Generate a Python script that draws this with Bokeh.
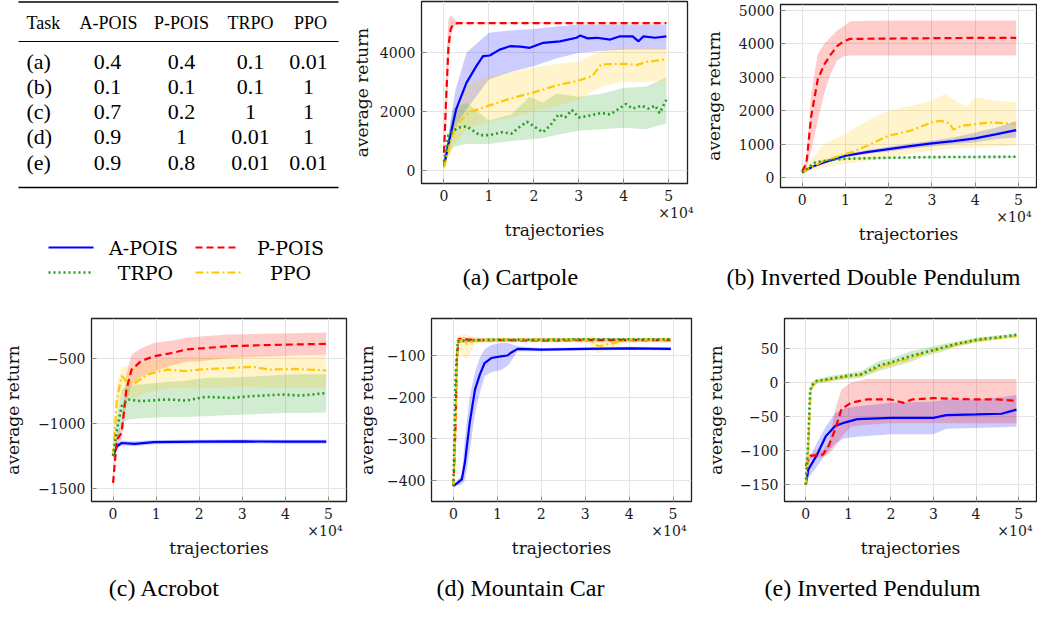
from bokeh.plotting import figure
from bokeh.layouts import row, column
from bokeh.models import Range1d, FixedTicker, Title, CustomJSTickFormatter
from bokeh.embed import file_html
from bokeh.resources import INLINE
from bokeh.core.properties import value

# ---------------- data ----------------
# table
table_cols = ["Task", "A-POIS", "P-POIS", "TRPO", "PPO"]
table_tasks = ["(a)", "(b)", "(c)", "(d)", "(e)"]
table_apois = ["0.4", "0.1", "0.7", "0.9", "0.9"]
table_ppois = ["0.4", "0.1", "0.2", "1", "0.8"]
table_trpo = ["0.1", "0.1", "1", "0.01", "0.01"]
table_ppo = ["0.01", "1", "1", "1", "0.01"]

methods = ["A-POIS", "P-POIS", "TRPO", "PPO"]
captions = ["(a) Cartpole", "(b) Inverted Double Pendulum", "(c) Acrobot",
            "(d) Mountain Car", "(e) Inverted Pendulum"]

# (a) Cartpole  (x in units of 1e4 trajectories)
a_ap_x = [0, 0.1, 0.27, 0.5, 0.72, 0.87, 1.02, 1.24, 1.47, 1.7, 1.91, 2.21, 2.58, 2.95, 3.03, 3.2, 3.4, 3.7, 3.92, 4.2, 4.33, 4.44, 4.7, 4.95]
a_ap_y = [150, 900, 2070, 2970, 3540, 3880, 3900, 4100, 4215, 4200, 4160, 4330, 4380, 4500, 4575, 4480, 4500, 4440, 4550, 4550, 4380, 4550, 4500, 4550]
a_ap_bx = [0, 0.25, 0.5, 1.0, 1.5, 2.0, 2.5, 3.0, 3.5, 4.0, 4.5, 4.95]
a_ap_lo = [100, 1500, 2070, 3085, 3350, 3540, 3800, 3990, 4050, 4100, 4100, 4100]
a_ap_hi = [200, 2700, 3990, 4670, 4750, 4800, 4880, 4950, 4950, 4950, 4950, 4950]
a_pp_x = [0, 0.05, 0.1, 0.15, 0.2, 0.3, 0.5, 1, 2, 3, 4, 4.95]
a_pp_y = [600, 2500, 4200, 4800, 4950, 5000, 5000, 5000, 5000, 5000, 5000, 5000]
a_pp_lo = [500, 1500, 3500, 4500, 4850, 4970, 4980, 4980, 4980, 4980, 4980, 4980]
a_pp_hi = [700, 3500, 5150, 5250, 5200, 5030, 5020, 5020, 5020, 5020, 5020, 5020]
a_tr_x = [0, 0.1, 0.3, 0.5, 0.7, 0.8, 1.0, 1.3, 1.5, 1.7, 1.85, 2.0, 2.2, 2.35, 2.55, 2.7, 2.85, 3.0, 3.2, 3.5, 3.7, 3.9, 4.05, 4.2, 4.4, 4.55, 4.7, 4.8, 4.95]
a_tr_y = [300, 1200, 1450, 1500, 1300, 1200, 1200, 1300, 1250, 1500, 1650, 1500, 1300, 1500, 1900, 1800, 2050, 1800, 1850, 1950, 1900, 2100, 2250, 2100, 2200, 2100, 2200, 1950, 2400]
a_tr_bx = [0, 0.2, 0.5, 1, 1.5, 1.9, 2.2, 2.5, 3, 3.5, 4, 4.5, 4.95]
a_tr_lo = [200, 800, 900, 900, 1000, 1050, 1100, 1200, 1350, 1400, 1450, 1400, 1600]
a_tr_hi = [400, 2100, 2300, 1700, 1900, 2500, 2300, 2600, 2500, 2600, 2800, 2850, 3150]
a_po_x = [0, 0.15, 0.3, 0.6, 1.0, 1.5, 2.0, 2.5, 3.0, 3.3, 3.5, 4.0, 4.3, 4.5, 4.95]
a_po_y = [100, 1000, 1600, 2000, 2200, 2450, 2650, 2880, 3050, 3200, 3600, 3620, 3580, 3680, 3770]
a_po_bx = [0, 0.25, 0.5, 1, 1.5, 2, 2.5, 3, 3.5, 4, 4.5, 4.95]
a_po_lo = [50, 900, 1400, 1650, 1800, 2000, 2200, 2400, 2850, 3000, 3000, 3050]
a_po_hi = [150, 2000, 2900, 3200, 3350, 3500, 3600, 3700, 4050, 4150, 4150, 4150]

# (b) Inverted Double Pendulum
b_ap_x = [0, 0.25, 0.5, 1, 1.5, 2, 2.5, 3, 3.5, 4, 4.5, 4.95]
b_ap_y = [150, 330, 450, 650, 760, 850, 940, 1020, 1090, 1170, 1300, 1420]
b_ap_lo = [130, 300, 410, 600, 700, 780, 860, 930, 1000, 1050, 1150, 1200]
b_ap_hi = [170, 360, 490, 700, 820, 920, 1020, 1110, 1200, 1350, 1500, 1700]
b_pp_x = [0, 0.1, 0.21, 0.36, 0.51, 0.66, 0.81, 0.96, 1.11, 2, 3, 4, 4.95]
b_pp_y = [180, 430, 1830, 2930, 3380, 3680, 3930, 4080, 4150, 4160, 4170, 4180, 4180]
b_pp_lo = [150, 300, 800, 1700, 2500, 3100, 3500, 3620, 3650, 3650, 3650, 3650, 3650]
b_pp_hi = [210, 600, 2500, 3700, 4000, 4200, 4400, 4530, 4680, 4700, 4700, 4700, 4700]
b_tr_x = [0, 0.3, 0.7, 1, 2, 3, 4, 4.95]
b_tr_y = [150, 450, 530, 560, 590, 610, 615, 620]
b_tr_lo = [140, 430, 510, 540, 570, 590, 595, 600]
b_tr_hi = [160, 470, 550, 580, 610, 630, 635, 640]
b_po_x = [0, 0.5, 1.0, 1.2, 1.5, 2, 2.5, 3, 3.2, 3.4, 3.5, 3.7, 4, 4.4, 4.95]
b_po_y = [150, 500, 700, 780, 950, 1250, 1400, 1650, 1700, 1630, 1430, 1550, 1600, 1650, 1600]
b_po_bx = [0, 0.5, 1, 1.5, 2, 2.5, 3, 3.3, 3.8, 4, 4.5, 4.95]
b_po_lo = [130, 300, 400, 500, 600, 700, 800, 850, 880, 900, 930, 950]
b_po_hi = [170, 1000, 1300, 1700, 2000, 2150, 2300, 2500, 2100, 2400, 2300, 2250]

# (c) Acrobot
c_ap_x = [0, 0.09, 0.2, 0.5, 0.95, 2, 3, 4, 4.95]
c_ap_y = [-1250, -1175, -1150, -1156, -1143, -1140, -1138, -1140, -1140]
c_ap_lo = [-1270, -1195, -1170, -1175, -1160, -1155, -1153, -1155, -1155]
c_ap_hi = [-1230, -1155, -1130, -1137, -1126, -1125, -1123, -1125, -1125]
c_pp_x = [0, 0.09, 0.2, 0.31, 0.43, 0.65, 0.95, 1.4, 1.7, 2.0, 2.7, 3.5, 4.2, 4.95]
c_pp_y = [-1456, -1123, -1070, -740, -585, -520, -482, -456, -430, -423, -405, -397, -392, -387]
c_pp_lo = [-1470, -1170, -1120, -850, -700, -640, -600, -550, -525, -520, -495, -485, -475, -470]
c_pp_hi = [-1440, -1080, -1000, -620, -470, -420, -380, -360, -340, -330, -315, -310, -305, -300]
c_tr_x = [0, 0.09, 0.2, 0.35, 0.65, 1.25, 1.7, 2.14, 2.74, 3.19, 3.93, 4.38, 4.95]
c_tr_y = [-1250, -1046, -867, -815, -828, -815, -823, -795, -803, -790, -777, -785, -765]
c_tr_lo = [-1270, -1150, -1000, -970, -960, -950, -950, -945, -935, -930, -920, -920, -915]
c_tr_hi = [-1230, -950, -740, -700, -700, -680, -670, -650, -645, -640, -625, -620, -620]
c_po_x = [0, 0.09, 0.2, 0.31, 0.5, 0.8, 1.25, 1.7, 2.0, 2.74, 3.26, 3.63, 4.23, 4.95]
c_po_y = [-1250, -815, -635, -675, -690, -623, -585, -597, -585, -572, -564, -585, -580, -592]
c_po_lo = [-1270, -950, -780, -800, -800, -760, -730, -730, -730, -720, -720, -725, -725, -730]
c_po_hi = [-1230, -700, -560, -560, -560, -520, -500, -490, -480, -475, -470, -470, -470, -470]

# (d) Mountain Car
d_ap_x = [0, 0.19, 0.26, 0.37, 0.49, 0.6, 0.71, 0.86, 1.08, 1.23, 1.3, 1.46, 2, 3, 4, 4.95]
d_ap_y = [-414, -398, -358, -262, -182, -146, -118, -106, -102, -100, -94, -84, -86, -84, -83, -84]
d_ap_lo = [-414, -410, -400, -330, -240, -190, -150, -140, -135, -125, -115, -90, -90, -88, -87, -88]
d_ap_hi = [-414, -385, -300, -200, -140, -105, -85, -75, -70, -70, -72, -78, -82, -80, -79, -80]
d_pp_x = [0, 0.05, 0.08, 0.12, 0.5, 1, 2, 3, 4, 4.95]
d_pp_y = [-414, -262, -100, -60, -63, -63, -64, -63, -63, -63]
d_pp_lo = [-414, -320, -150, -70, -68, -68, -68, -68, -68, -68]
d_pp_hi = [-414, -220, -70, -55, -58, -58, -58, -58, -58, -58]
d_tr_x = [0, 0.05, 0.1, 0.5, 1, 2, 3, 4, 4.95]
d_tr_y = [-414, -150, -65, -63, -62, -62, -61, -61, -61]
d_tr_lo = [-414, -170, -70, -66, -65, -65, -64, -64, -64]
d_tr_hi = [-414, -130, -60, -60, -59, -59, -58, -58, -58]
d_po_x = [0, 0.05, 0.1, 0.2, 0.3, 0.5, 1, 2, 3, 3.15, 3.3, 4, 4.95]
d_po_y = [-414, -250, -62, -65, -72, -63, -62, -62, -62, -65, -78, -62, -62]
d_po_lo = [-414, -300, -80, -100, -110, -70, -67, -67, -67, -80, -95, -67, -67]
d_po_hi = [-414, -200, -50, -50, -50, -56, -57, -57, -57, -52, -60, -57, -57]

# (e) Inverted Pendulum
e_ap_x = [0, 0.06, 0.25, 0.47, 0.69, 0.91, 1.21, 2, 3, 3.3, 4, 4.6, 4.95]
e_ap_y = [-150, -128, -108, -79, -64, -59, -54, -52, -52, -48, -47, -46, -40]
e_ap_lo = [-152, -140, -125, -105, -90, -82, -80, -76, -76, -68, -67, -66, -65]
e_ap_hi = [-148, -115, -90, -65, -45, -38, -35, -30, -28, -25, -25, -22, -18]
e_pp_x = [0, 0.1, 0.4, 0.54, 0.69, 0.84, 1.06, 1.43, 2, 2.3, 2.5, 3, 3.5, 4, 4.5, 4.95]
e_pp_y = [-123, -108, -106, -93, -69, -39, -30, -25, -25, -30, -25, -23, -24, -25, -25, -27]
e_pp_lo = [-128, -112, -110, -105, -95, -80, -65, -62, -60, -60, -60, -60, -60, -60, -60, -60]
e_pp_hi = [-118, -104, -100, -88, -40, -10, 0, 5, 5, 5, 5, 5, 5, 5, 5, 5]
e_tr_x = [0, 0.06, 0.1, 0.13, 0.25, 0.54, 1, 1.3, 1.73, 2.03, 2.47, 2.77, 3.2, 3.5, 4.03, 4.48, 4.95]
e_tr_y = [-150, -84, -15, -5, 2, 5, 10, 12, 25, 30, 39, 44, 51, 56, 63, 66, 70]
e_tr_lo = [-152, -95, -25, -10, -2, 1, 5, 7, 17, 22, 30, 38, 45, 52, 59, 63, 67]
e_tr_hi = [-148, -75, -8, 0, 5, 9, 14, 17, 32, 36, 46, 50, 56, 60, 66, 69, 72]
e_po_y = [-150, -100, -30, -8, 1, 4, 9, 11, 22, 28, 36, 43, 50, 55, 62, 65, 68]
e_po_lo = [-152, -110, -40, -12, -2, 1, 6, 8, 19, 25, 33, 40, 47, 52, 59, 62, 66]
e_po_hi = [-148, -90, -20, -4, 4, 7, 12, 14, 26, 31, 40, 46, 53, 58, 65, 68, 70]

x_ticks = [0, 1, 2, 3, 4, 5]
a_yticks = [0, 2000, 4000]
b_yticks = [0, 1000, 2000, 3000, 4000, 5000]
c_yticks = [-1500, -1000, -500]
d_yticks = [-400, -300, -200, -100]
e_yticks = [-150, -100, -50, 0, 50]

# ---------------- style ----------------
COLORS = {"A-POIS": "#0000ff", "P-POIS": "#ff0000", "TRPO": "#1f9e1f", "PPO": "#ffc800"}
DASH = {"A-POIS": "solid", "P-POIS": "7 4", "TRPO": "2 3", "PPO": "8 3 2 3"}
LW = {"A-POIS": 2.2, "P-POIS": 2.2, "TRPO": 2.6, "PPO": 2.2}
SERIF = "'DejaVu Serif', 'Liberation Serif', serif"
TIMES = "'Liberation Serif', 'Times New Roman', serif"
TICK_GRAY = "#8a8a8a"

fmt = CustomJSTickFormatter(code="return tick < 0 ? '\u2212' + Math.abs(tick) : String(tick);")


def base_fig(width, height, xr, yr, **kw):
    p = figure(width=width, height=height, x_range=Range1d(*xr), y_range=Range1d(*yr),
               output_backend="svg", toolbar_location=None, **kw)
    p.frame_align = False
    p.background_fill_color = "white"
    p.border_fill_color = "white"
    return p


def make_plot(width, height, left, right, top, bottom, yr, yticks, series, exp_off, ylab_off):
    xr = (-0.5, 5.42)
    p = base_fig(width, height, xr, yr,
                 min_border_left=left, min_border_right=right,
                 min_border_top=top, min_border_bottom=bottom)
    p.outline_line_color = "#202020"
    p.outline_line_width = 1.3
    for ax in (p.xaxis, p.yaxis):
        ax.axis_line_color = None
        ax.major_tick_in = 5
        ax.major_tick_out = 0
        ax.major_tick_line_color = TICK_GRAY
        ax.minor_tick_line_color = None
        ax.major_label_text_font = SERIF
        ax.major_label_text_font_size = "14px"
        ax.major_label_text_color = "#1a1a1a"
        ax.axis_label_text_font = SERIF
        ax.axis_label_text_font_size = "17px"
        ax.axis_label_text_font_style = "normal"
        ax.axis_label_text_color = "#111111"
    p.xaxis.ticker = FixedTicker(ticks=x_ticks)
    p.yaxis.ticker = FixedTicker(ticks=yticks)
    p.yaxis.formatter = fmt
    p.xaxis.major_label_standoff = 6
    p.yaxis.major_label_standoff = 6
    p.yaxis.axis_label = "average return"
    p.yaxis.axis_label_standoff = ylab_off
    p.grid.grid_line_color = "#e4e4e4"
    p.grid.grid_line_width = 1
    for m in methods:
        s = series[m]
        p.varea(x=s["bx"], y1=s["lo"], y2=s["hi"], fill_color=COLORS[m], fill_alpha=0.2)
    for m in ["A-POIS", "P-POIS", "PPO", "TRPO"]:
        s = series[m]
        p.line(x=s["x"], y=s["y"], line_color=COLORS[m], line_width=LW[m], line_dash=DASH[m])
    p.add_layout(Title(text="\u00d710\u2074", align="right", vertical_align="bottom",
                       standoff=-1, offset=exp_off, text_font=SERIF, text_font_size="14px",
                       text_font_style="normal", text_color="#1a1a1a"), "below")
    p.add_layout(Title(text="trajectories", align="center", vertical_align="bottom",
                       standoff=-6, text_font=SERIF, text_font_size="17px",
                       text_font_style="normal", text_color="#111111"), "below")
    return p


def S(x, y, bx, lo, hi):
    return {"x": x, "y": y, "bx": bx, "lo": lo, "hi": hi}


ser_a = {"A-POIS": S(a_ap_x, a_ap_y, a_ap_bx, a_ap_lo, a_ap_hi),
         "P-POIS": S(a_pp_x, a_pp_y, a_pp_x, a_pp_lo, a_pp_hi),
         "TRPO": S(a_tr_x, a_tr_y, a_tr_bx, a_tr_lo, a_tr_hi),
         "PPO": S(a_po_x, a_po_y, a_po_bx, a_po_lo, a_po_hi)}
ser_b = {"A-POIS": S(b_ap_x, b_ap_y, b_ap_x, b_ap_lo, b_ap_hi),
         "P-POIS": S(b_pp_x, b_pp_y, b_pp_x, b_pp_lo, b_pp_hi),
         "TRPO": S(b_tr_x, b_tr_y, b_tr_x, b_tr_lo, b_tr_hi),
         "PPO": S(b_po_x, b_po_y, b_po_bx, b_po_lo, b_po_hi)}
ser_c = {"A-POIS": S(c_ap_x, c_ap_y, c_ap_x, c_ap_lo, c_ap_hi),
         "P-POIS": S(c_pp_x, c_pp_y, c_pp_x, c_pp_lo, c_pp_hi),
         "TRPO": S(c_tr_x, c_tr_y, c_tr_x, c_tr_lo, c_tr_hi),
         "PPO": S(c_po_x, c_po_y, c_po_x, c_po_lo, c_po_hi)}
ser_d = {"A-POIS": S(d_ap_x, d_ap_y, d_ap_x, d_ap_lo, d_ap_hi),
         "P-POIS": S(d_pp_x, d_pp_y, d_pp_x, d_pp_lo, d_pp_hi),
         "TRPO": S(d_tr_x, d_tr_y, d_tr_x, d_tr_lo, d_tr_hi),
         "PPO": S(d_po_x, d_po_y, d_po_x, d_po_lo, d_po_hi)}
ser_e = {"A-POIS": S(e_ap_x, e_ap_y, e_ap_x, e_ap_lo, e_ap_hi),
         "P-POIS": S(e_pp_x, e_pp_y, e_pp_x, e_pp_lo, e_pp_hi),
         "TRPO": S(e_tr_x, e_tr_y, e_tr_x, e_tr_lo, e_tr_hi),
         "PPO": S(e_tr_x, e_po_y, e_tr_x, e_po_lo, e_po_hi)}

# width, height, border left/right/top/bottom
pa = make_plot(355, 250, 76, 13, 1, 67, (-440, 5730), a_yticks, ser_a, -6, 5)
pb = make_plot(337, 250, 74, 1, 4, 63, (-300, 5180), b_yticks, ser_b, 5, 12)
pc = make_plot(354, 272, 80, 8, 28, 61, (-1600, -192), c_yticks, ser_c, 4, 12)
pd = make_plot(349, 272, 74, 12, 28, 61, (-451, -11), d_yticks, ser_d, 5, 7)
pe = make_plot(334, 272, 76, 1, 28, 61, (-175, 94), e_yticks, ser_e, 4, 11)


def text_panel(w, h):
    t = base_fig(w, h, (0, w), (h, 0), x_axis_type=None, y_axis_type=None, min_border=0)
    t.outline_line_color = None
    t.grid.visible = False
    return t


# caption strips
cap1 = text_panel(692, 40)
cap1.text(x=[175, 528], y=[26, 26], text=captions[:2], text_font=value(TIMES),
          text_font_size=value("24px"), text_align="center", text_baseline="middle")
cap2 = text_panel(1037, 39)
cap2.text(x=[164, 520, 872], y=[25, 25, 25], text=captions[2:], text_font=value(TIMES),
          text_font_size=value("24px"), text_align="center", text_baseline="middle")

# ---------------- table + legend panel ----------------
pt = text_panel(345, 290)
head_x = [26, 108, 181, 250, 310]
val_x = [107, 181, 250, 308]
row_y = [61, 86, 111, 136, 162]
pt.segment(x0=[18, 18, 18], y0=[1.5, 41, 187], x1=[338, 338, 338], y1=[1.5, 41, 187],
           line_color="black", line_width=[1.6, 1.0, 1.6])
pt.text(x=[head_x[0]], y=[22], text=[table_cols[0]], text_font=value(TIMES),
        text_font_size=value("18px"), text_align="left", text_baseline="middle")
pt.text(x=head_x[1:], y=[22] * 4, text=table_cols[1:], text_font=value(TIMES),
        text_font_size=value("18px"), text_align="center", text_baseline="middle")
pt.text(x=[head_x[0]] * 5, y=row_y, text=table_tasks, text_font=value(TIMES),
        text_font_size=value("22px"), text_align="left", text_baseline="middle")
for cx, vals in zip(val_x, [table_apois, table_ppois, table_trpo, table_ppo]):
    pt.text(x=[cx] * 5, y=row_y, text=vals, text_font=value(TIMES),
            text_font_size=value("22px"), text_align="center", text_baseline="middle")

leg_rows = [247, 272]
leg_pos = {"A-POIS": (48, 93, 143, 0), "P-POIS": (195, 235, 290, 0),
           "TRPO": (48, 93, 145, 1), "PPO": (195, 240, 290, 1)}
for m in methods:
    x0, x1, tx, r = leg_pos[m]
    pt.line(x=[x0, x1], y=[leg_rows[r], leg_rows[r]], line_color=COLORS[m], line_width=LW[m],
            line_dash=DASH[m])
    pt.text(x=[tx], y=[leg_rows[r]], text=[m], text_font=value(SERIF),
            text_font_size=value("19px"), text_align="center", text_baseline="middle")

layout = column(row(pt, column(row(pa, pb), cap1)), column(row(pc, pd, pe), cap2))
open("out.html", "w").write(file_html(layout, INLINE))
